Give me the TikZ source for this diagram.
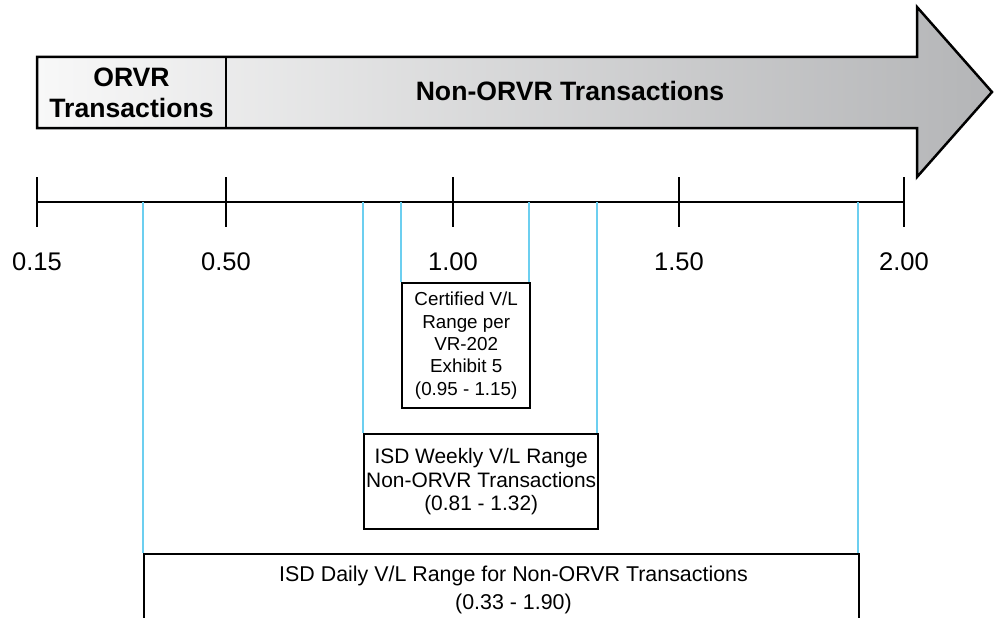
\documentclass[tikz,border=0pt]{standalone}
\usepackage{fontspec}
\setmainfont{Liberation Sans}
\usetikzlibrary{calc}
\definecolor{rangeblue}{HTML}{6CCFF0}
\definecolor{shadeleft}{HTML}{F8F8F8}
\definecolor{shaderight}{HTML}{B4B5B7}
\tikzset{
  axisline/.style={line width=2.6pt, black},
  tickline/.style={line width=2.6pt, black},
  rangeline/.style={line width=2pt, rangeblue},
  ticklabel/.style={font=\fontsize{25.5}{30}\selectfont, inner sep=0pt},
  rangebox/.style={draw=black, line width=2.4pt, fill=white, align=center, inner sep=0pt},
  headtext/.style={font=\fontsize{26.6}{31}\selectfont\bfseries, align=center, inner sep=0pt},
}
\begin{document}
\begin{tikzpicture}[x=1pt, y=-1pt]
\useasboundingbox (0,0) rectangle (994,618);
\clip (0,0) rectangle (994,618);

% direction arrow with shaded body
\draw[line width=2.5pt, left color=shadeleft, right color=shaderight, line join=miter]
  (37,57) -- (917,57) -- (917,7) -- (992,92) -- (917,177) -- (917,128) -- (37,128) -- cycle;
\draw[line width=2.5pt] (226,57) -- (226,128);
\node[headtext] (orvr) at (131.5,92.5) {ORVR\\Transactions};
\node[headtext] (nonorvr) at (570,91) {Non-ORVR Transactions};

% value axis
\coordinate (t015) at (37,202);
\coordinate (t050) at (226,202);
\coordinate (t100) at (453,202);
\coordinate (t150) at (679,202);
\coordinate (t200) at (904,202);
\draw[axisline] (t015) -- (t200);
\foreach \t in {t015,t050,t100,t150,t200}
  \draw[tickline] ($(\t)+(0,-25)$) -- ($(\t)+(0,25)$);
\node[ticklabel] (l015) at (37,262) {0.15};
\node[ticklabel] (l050) at (226,262) {0.50};
\node[ticklabel] (l100) at (453,262) {1.00};
\node[ticklabel] (l150) at (679,262) {1.50};
\node[ticklabel] (l200) at (904,262) {2.00};

% range boxes
\node[rangebox, minimum width=128pt, minimum height=125pt, anchor=north west,
      font=\fontsize{18.8}{22.3}\selectfont] (cert) at (401,282)
  {Certified V/L\\Range per\\VR-202\\Exhibit 5\\(0.95 - 1.15)};
\node[rangebox, minimum width=234pt, minimum height=95pt, anchor=north west,
      font=\fontsize{20.9}{23.5}\selectfont] (weekly) at (363,433)
  {ISD Weekly V/L Range\\Non-ORVR Transactions\\(0.81 - 1.32)};
\node[rangebox, minimum width=715pt, minimum height=90pt, anchor=north west] (daily) at (143,553) {};
\node[font=\fontsize{21.4}{28}\selectfont, align=center, inner sep=0pt] (dailytxt) at (513.5,590)
  {ISD Daily V/L Range for Non-ORVR Transactions\\(0.33 - 1.90)};

% range limits dropped from the axis
\coordinate (r033) at (143,202);
\coordinate (r081) at (363,202);
\coordinate (r095) at (401,202);
\coordinate (r115) at (529,202);
\coordinate (r132) at (597,202);
\coordinate (r190) at (858,202);
\draw[rangeline] (r033) -- (r033 |- daily.north);
\draw[rangeline] (r190) -- (r190 |- daily.north);
\draw[rangeline] (r081) -- (r081 |- weekly.north);
\draw[rangeline] (r132) -- (r132 |- weekly.north);
\draw[rangeline] (r095) -- (r095 |- cert.north);
\draw[rangeline] (r115) -- (r115 |- cert.north);
\end{tikzpicture}
\end{document}
